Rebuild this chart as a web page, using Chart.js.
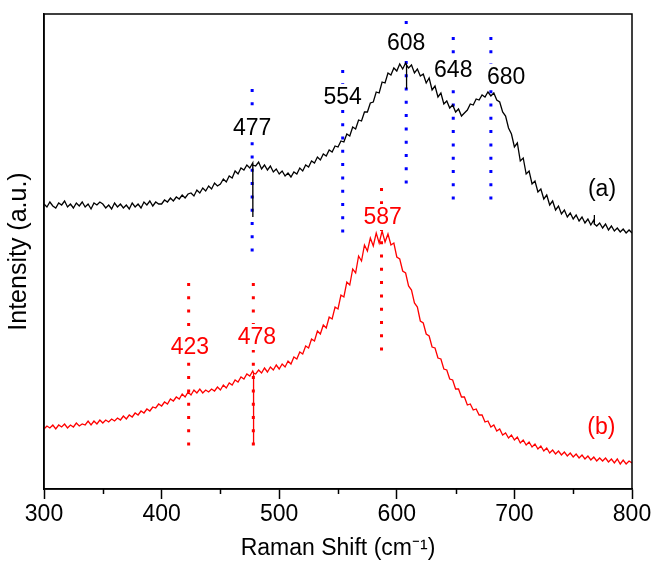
<!DOCTYPE html>
<html><head><meta charset="utf-8">
<script src="https://cdn.jsdelivr.net/npm/chart.js@4"></script>
<style>html,body{margin:0;padding:0;background:#fff}#wrap{width:654px;height:562px;position:relative}</style>
</head><body><div id="wrap"><canvas id="c"></canvas></div>
<script>
// Raman shift grid (cm-1)
const shift = [
300,302.5,305,307.5,310,312.5,315,317.5,320,322.5,325,327.5,330,332.5,335,337.5,340,342.5,345,347.5,
350,352.5,355,357.5,360,362.5,365,367.5,370,372.5,375,377.5,380,382.5,385,387.5,390,392.5,395,397.5,
400,402.5,405,407.5,410,412.5,415,417.5,420,422.5,425,427.5,430,432.5,435,437.5,440,442.5,445,447.5,
450,452.5,455,457.5,460,462.5,465,467.5,470,472.5,475,477.5,480,482.5,485,487.5,490,492.5,495,497.5,
500,502.5,505,507.5,510,512.5,515,517.5,520,522.5,525,527.5,530,532.5,535,537.5,540,542.5,545,547.5,
550,552.5,555,557.5,560,562.5,565,567.5,570,572.5,575,577.5,580,582.5,585,587.5,590,592.5,595,597.5,
600,602.5,605,607.5,610,612.5,615,617.5,620,622.5,625,627.5,630,632.5,635,637.5,640,642.5,645,647.5,
650,652.5,655,657.5,660,662.5,665,667.5,670,672.5,675,677.5,680,682.5,685,687.5,690,692.5,695,697.5,
700,702.5,705,707.5,710,712.5,715,717.5,720,722.5,725,727.5,730,732.5,735,737.5,740,742.5,745,747.5,
750,752.5,755,757.5,760,762.5,765,767.5,770,772.5,775,777.5,780,782.5,785,787.5,790,792.5,795,797.5,800];
// spectrum (a), offset intensity (a.u.)
const intensityA = [
283,280,285,281,279,284,282,286,280,283, 279,284,281,285,280,283,278,284,282,285,
283,279,282,278,284,280,283,279,282,278, 284,280,283,279,285,282,286,281,285,283,
283,287,285,289,286,290,288,292,289,293, 294,291,297,294,299,296,301,298,304,301,
303,308,305,311,309,316,313,319,317,322, 319,324,321,325,318,322,317,321,315,318,
313,316,311,314,310,315,313,319,316,322, 320,326,324,330,327,333,331,337,335,341,
340,346,345,353,351,360,358,367,366,375, 375,384,385,395,394,405,404,414,412,419,
416,423,418,424,419,422,414,418,411,413, 404,409,397,401,390,394,383,386,379,382,
375,378,371,374,377,383,382,388,387,392, 390,395,391,394,387,385,375,371,359,353,
340,344,326,329,313,316,303,306,295,298, 288,292,282,286,277,281,273,277,270,274,
268,272,266,270,264,268,262,267,261,264, 259,263,257,261,256,259,255,258,254,257, 254];
// spectrum (b)
const intensityB = [
58,61,59,62,58,62,60,63,59,62, 60,64,61,63,62,66,62,66,63,67,
64,67,65,68,66,69,67,71,68,72, 70,74,72,76,74,78,76,80,79,83,
81,85,83,88,86,90,88,93,90,95, 92,97,94,98,94,97,95,98,96,100,
97,102,99,104,102,107,105,110,108,113, 111,116,113,117,114,119,115,120,117,122,
118,123,120,126,123,130,128,135,133,141, 139,148,146,156,153,162,159,170,168,180,
178,192,190,205,202,218,214,231,226,242, 236,249,241,254,244,256,245,253,242,244,
230,228,216,214,201,197,184,180,166,164, 153,151,140,139,129,128,118,117,108,107,
98,98,90,90,82,83,77,78,72,72, 65,66,60,62,56,58,52,54,49,52,
47,50,44,47,42,45,40,43,38,41, 36,39,34,37,33,36,32,35,31,34,
30,33,29,32,28,31,27,30,26,29, 26,29,25,28,24,28,23,27,23,26, 24];
// narrow spikes in the spectra
const spikeShiftA = [477.6, 608.3, 768];
const spikeBaseA = [322, 422, 263];
const spikeValueA = [270, 398, 272];
const spikeShiftB = [478.2];
const spikeBaseB = [114];
const spikeValueB = [42];
// peak markers
const peaksA = [477, 554, 608, 648, 680];
const peakTopA = [398, 417, 466, 450, 450];
const peakBottomA = [235, 254, 303, 286, 285];
const peaksB = [423, 478, 587];
const peakTopB = [204, 204, 299];
const peakBottomB = [38, 39, 135];
// peak labels
const labelTextA = ['477', '554', '608', '648', '680'];
const labelXA = [477, 554, 608, 648, 693];
const labelYA = [359, 390, 444, 417, 410];
const labelTextB = ['423', '478', '587'];
const labelXB = [424, 481, 588];
const labelYB = [140, 150, 270];
const seriesNames = ['(a)', '(b)'];
const seriesNameX = [774.5, 774];
const seriesNameY = [297, 59];
const xTicks = [300, 400, 500, 600, 700, 800];
const xMinorTicks = [350, 450, 550, 650, 750];

function buildSeries(xs, ys, sx, sb, sv) {
  const pts = xs.map((x, i) => ({x: x, y: ys[i]}));
  sx.forEach((s, i) => {
    pts.push({x: s - 0.01, y: sb[i]}, {x: s, y: sv[i]}, {x: s + 0.01, y: sb[i]});
  });
  pts.sort((a, b) => a.x - b.x);
  return pts;
}

const FONT = '"Liberation Sans", Arial, sans-serif';
const datasets = [
  {data: buildSeries(shift, intensityA, spikeShiftA, spikeBaseA, spikeValueA), borderColor: '#000', borderWidth: 1.3, order: 0},
  {data: buildSeries(shift, intensityB, spikeShiftB, spikeBaseB, spikeValueB), borderColor: '#ff0000', borderWidth: 1.3, order: 0}
];
peaksA.forEach((p, i) => datasets.push({data: [{x: p, y: peakTopA[i]}, {x: p, y: peakBottomA[i]}], borderColor: '#0000ff', borderWidth: 3, borderDash: [3, 10.3], borderCapStyle: 'butt', order: 1}));
peaksB.forEach((p, i) => datasets.push({data: [{x: p, y: peakTopB[i]}, {x: p, y: peakBottomB[i]}], borderColor: '#ff0000', borderWidth: 3, borderDash: [3, 10.3], borderCapStyle: 'butt', order: 1}));

const decor = {
  id: 'decor',
  afterDatasetsDraw(chart) {
    const ctx = chart.ctx, xs = chart.scales.x, ys = chart.scales.y, ca = chart.chartArea;
    ctx.save();
    ctx.font = '23px ' + FONT;
    ctx.textAlign = 'center';
    ctx.textBaseline = 'middle';
    const put = (t, x, y, col) => {
      const px = xs.getPixelForValue(x), py = ys.getPixelForValue(y);
      const w = ctx.measureText(t).width;
      ctx.fillStyle = '#fff';
      ctx.fillRect(px - w / 2 - 2, py - 13, w + 4, 26);
      ctx.fillStyle = col;
      ctx.fillText(t, px, py + 1);
    };
    labelTextA.forEach((t, i) => put(t, labelXA[i], labelYA[i], '#000'));
    labelTextB.forEach((t, i) => put(t, labelXB[i], labelYB[i], '#ff0000'));
    ctx.fillStyle = '#000';
    ctx.fillText(seriesNames[0], xs.getPixelForValue(seriesNameX[0]), ys.getPixelForValue(seriesNameY[0]));
    ctx.fillStyle = '#ff0000';
    ctx.fillText(seriesNames[1], xs.getPixelForValue(seriesNameX[1]), ys.getPixelForValue(seriesNameY[1]));
    // frame
    ctx.strokeStyle = '#000';
    ctx.lineWidth = 1.5;
    ctx.strokeRect(ca.left, ca.top, ca.right - ca.left, ca.bottom - ca.top);
    // minor ticks
    xMinorTicks.forEach(v => {
      const px = Math.round(xs.getPixelForValue(v)) + 0.5;
      ctx.beginPath();
      ctx.moveTo(px, ca.bottom);
      ctx.lineTo(px, ca.bottom + 5);
      ctx.stroke();
    });
    ctx.restore();
  }
};

new Chart(document.getElementById('c'), {
  type: 'scatter',
  data: {datasets: datasets},
  options: {
    responsive: true, maintainAspectRatio: false, animation: false,
    showLine: true,
    elements: {point: {radius: 0, hoverRadius: 0}, line: {tension: 0}},
    layout: {padding: {top: 14, right: 22, left: 0, bottom: 0}},
    plugins: {legend: {display: false}, tooltip: {enabled: false}},
    scales: {
      x: {
        type: 'linear', min: 300, max: 800,
        afterBuildTicks: s => { s.ticks = xTicks.map(v => ({value: v})); },
        ticks: {font: {size: 23, family: FONT}, color: '#000', padding: 2, maxRotation: 0},
        grid: {drawOnChartArea: false, drawTicks: true, tickLength: 10, color: '#000', tickWidth: 1.5},
        border: {display: true, color: '#000', width: 1.5},
        title: {display: true, text: 'Raman Shift (cm\u207B\u00B9)', font: {size: 23, family: FONT}, color: '#000', padding: {top: 4, bottom: 0}},
        afterFit: s => { s.height = 73; }
      },
      y: {
        type: 'linear', min: -2, max: 473,
        ticks: {display: false},
        grid: {display: false},
        border: {display: true, color: '#000', width: 1.5},
        title: {display: true, text: 'Intensity (a.u.)', font: {size: 25, family: FONT}, color: '#000', padding: {top: 4, bottom: 0}},
        afterFit: s => { s.width = 44; }
      }
    }
  },
  plugins: [decor]
});
</script>
</body></html>
